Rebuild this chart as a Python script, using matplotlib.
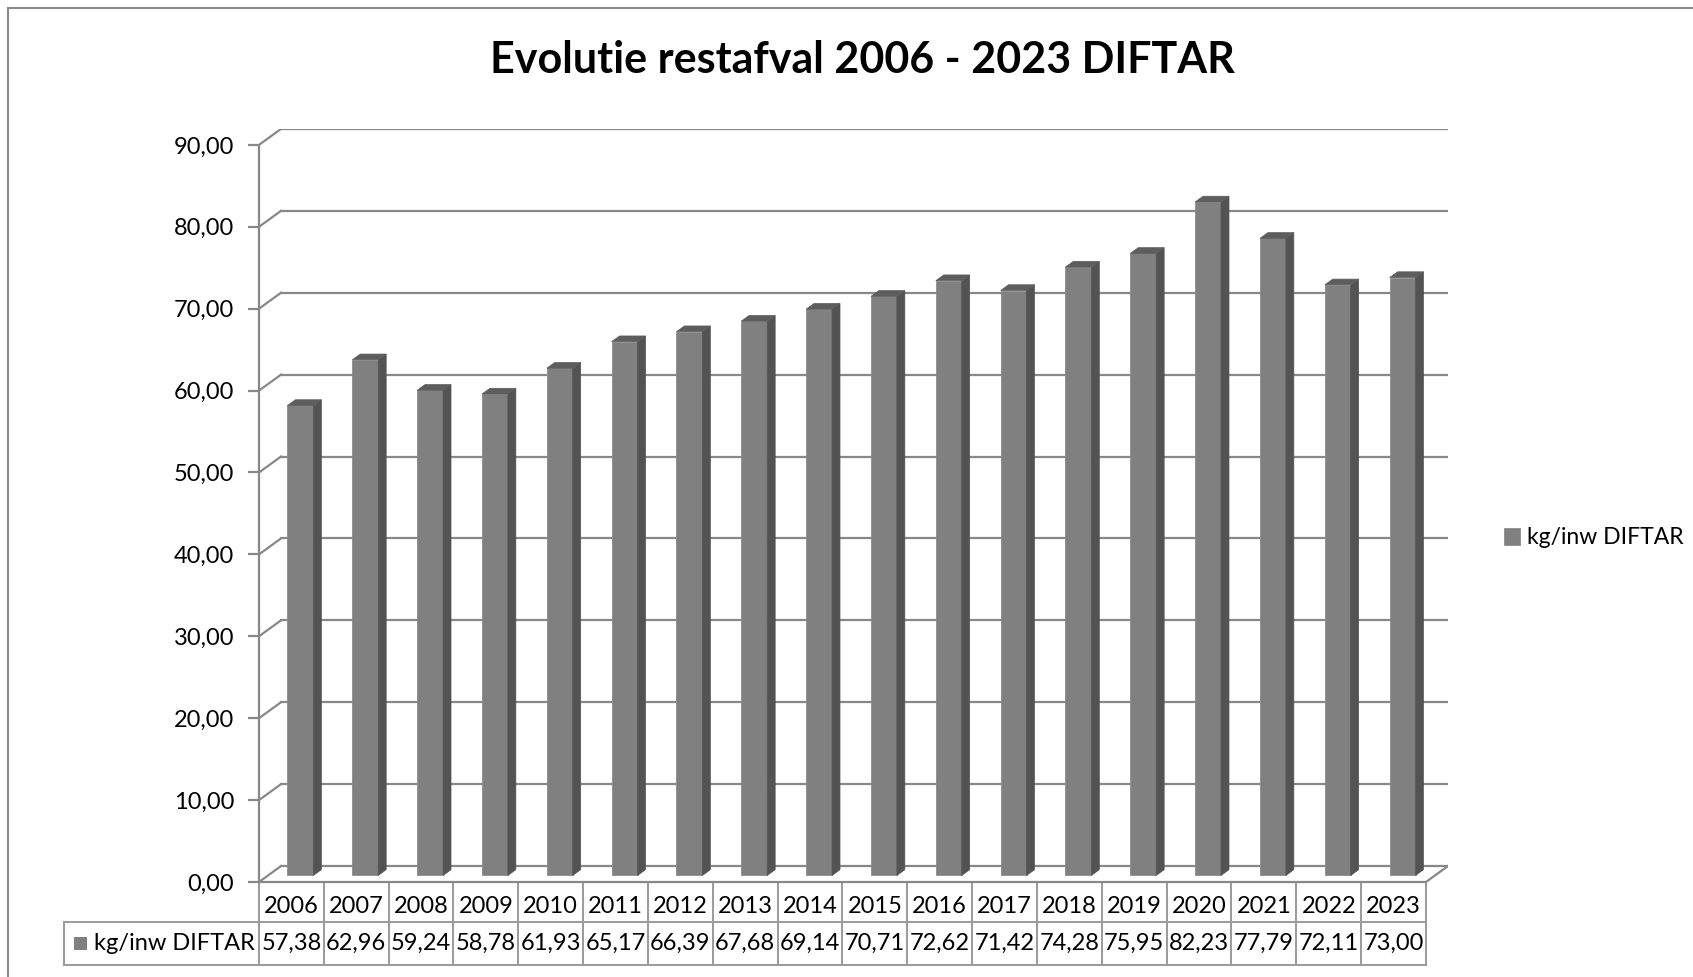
import matplotlib.pyplot as plt
from matplotlib.patches import Polygon, Rectangle

plt.rcParams['font.family'] = ['Lato', 'DejaVu Sans']

years = ['2006', '2007', '2008', '2009', '2010', '2011', '2012', '2013', '2014',
         '2015', '2016', '2017', '2018', '2019', '2020', '2021', '2022', '2023']
kg_inw = [57.38, 62.96, 59.24, 58.78, 61.93, 65.17, 66.39, 67.68, 69.14,
          70.71, 72.62, 71.42, 74.28, 75.95, 82.23, 77.79, 72.11, 73.00]
series_name = 'kg/inw DIFTAR'
yticks = [0, 10, 20, 30, 40, 50, 60, 70, 80, 90]

W, H = 1693, 977
n = len(years)
DX, DY = 0.34, 1.95          # depth of the 3D box (data units)
f0, f1 = 0.41, 0.77          # bar front / back depth fraction
bw = 0.40                    # bar width

grid_c = '#888888'
front_c = '#808080'
side_c = '#535353'
top_c = '#5d5d5d'

fig = plt.figure(figsize=(W / 100, H / 100), dpi=100)
ax = fig.add_axes([259 / W, (H - 882) / H, (1448 - 259) / W, 753.5 / H])
ax.set_xlim(0, n + DX)
ax.set_ylim(0, 92)

# walls / gridlines
for v in yticks:
    ax.plot([0, DX], [v, v + DY], color=grid_c, lw=1.6, zorder=1)
    ax.plot([DX, n + DX], [v + DY, v + DY], color=grid_c, lw=1.6, zorder=1)
ax.plot([n, n + DX], [0, DY], color=grid_c, lw=1.6, zorder=1)

# bars
xs = [i + 0.5 - bw / 2 + f0 * DX for i in range(n)]
base = f0 * DY
ddx, ddy = (f1 - f0) * DX, (f1 - f0) * DY
ax.bar(xs, kg_inw, width=bw, bottom=base, align='edge', color=front_c,
       edgecolor='#8c8c8c', linewidth=0.6, zorder=3, label=series_name)
for x, v in zip(xs, kg_inw):
    top = base + v
    xr = x + bw
    ax.add_patch(Polygon([(xr, base), (xr + ddx, base + ddy), (xr + ddx, top + ddy), (xr, top)],
                         closed=True, facecolor=side_c, edgecolor=side_c, lw=0.5, zorder=3))
    ax.add_patch(Polygon([(x, top), (xr, top), (xr + ddx, top + ddy), (x + ddx, top + ddy)],
                         closed=True, facecolor=top_c, edgecolor=top_c, lw=0.5, zorder=3))

# axes look
for s in ['top', 'right']:
    ax.spines[s].set_visible(False)
ax.spines['left'].set_bounds(0, 90)
ax.spines['bottom'].set_bounds(0, n)
ax.spines['left'].set_color(grid_c)
ax.spines['bottom'].set_color(grid_c)
ax.spines['left'].set_linewidth(1.6)
ax.spines['bottom'].set_linewidth(1.6)
ax.set_xticks([])
ax.set_yticks(yticks)
ax.set_yticklabels([f"{v:.2f}".replace('.', ',') for v in yticks])
ax.tick_params(axis='y', length=8, width=1.6, color=grid_c, labelsize=17, pad=10)
ax.patch.set_alpha(0)

# data table under the chart
tc = '#9a9a9a'
y_mid, y_bot = -4.88, -10.13
x_lab = -3.01
ax.plot([x_lab, n], [y_mid, y_mid], color=tc, lw=1.4, clip_on=False)
ax.plot([x_lab, n], [y_bot, y_bot], color=tc, lw=1.4, clip_on=False)
ax.plot([x_lab, x_lab], [y_mid, y_bot], color=tc, lw=1.4, clip_on=False)
for i in range(n + 1):
    ax.plot([i, i], [0, y_bot], color=tc, lw=1.4, clip_on=False)
for i, (yr, v) in enumerate(zip(years, kg_inw)):
    ax.text(i + 0.5, y_mid / 2 - 0.5, yr, ha='center', va='center', fontsize=17, clip_on=False)
    ax.text(i + 0.5, (y_mid + y_bot) / 2, f"{v:.2f}".replace('.', ','),
            ha='center', va='center', fontsize=17, clip_on=False)
ax.add_patch(Rectangle((x_lab + 0.16, (y_mid + y_bot) / 2 - 0.85), 0.2, 1.7,
                       facecolor=front_c, edgecolor='none', clip_on=False))
ax.text(x_lab + 0.47, (y_mid + y_bot) / 2, series_name, ha='left', va='center',
        fontsize=17, clip_on=False)

# legend on the right
ax.legend(loc='center left', bbox_to_anchor=(1504 / W, 1 - 538 / H),
          bbox_transform=fig.transFigure, frameon=False, fontsize=16.5,
          handlelength=0.7, handleheight=0.7, handletextpad=0.3, borderpad=0,
          borderaxespad=0)

fig.text(862 / W, 1 - 60 / H, 'Evolutie restafval 2006 - 2023 DIFTAR',
         ha='center', va='center', fontsize=31, fontweight='bold')

# outer chart border (runs off the right and bottom edge)
fig.patches.append(Rectangle((8 / W, -0.05), 1.2, (H - 8) / H + 0.05, transform=fig.transFigure,
                             fill=False, edgecolor='#8a8a8a', lw=1.5))

fig.savefig('out.png', dpi=100, facecolor='white')
